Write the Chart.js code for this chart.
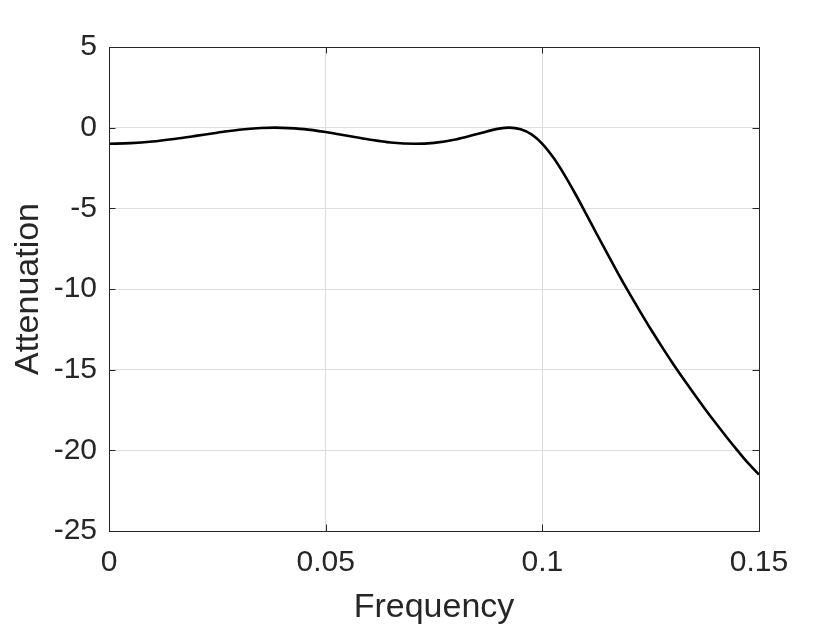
<!DOCTYPE html>
<html>
<head>
<meta charset="utf-8">
<script src="https://cdn.jsdelivr.net/npm/chart.js@4.4.1/dist/chart.umd.min.js"></script>
<style>
html,body{margin:0;padding:0;background:#fff;}
#wrap{width:840px;height:630px;position:relative;}
</style>
</head>
<body>
<div id="wrap"><canvas id="c" width="840" height="630"></canvas></div>
<script>
const frequency = [0, 0.005, 0.01, 0.015, 0.02, 0.025, 0.03, 0.035, 0.0383, 0.04, 0.045, 0.05, 0.055, 0.06, 0.065, 0.0707, 0.075, 0.08, 0.085, 0.09, 0.0924, 0.095, 0.0975, 0.1, 0.1025, 0.105, 0.1075, 0.11, 0.1125, 0.115, 0.1175, 0.12, 0.1225, 0.125, 0.1275, 0.13, 0.1325, 0.135, 0.1375, 0.14, 0.1425, 0.145, 0.1475, 0.15];
const attenuation = [-1.00, -0.96, -0.86, -0.70, -0.51, -0.31, -0.13, -0.02, 0.00, -0.01, -0.09, -0.27, -0.50, -0.73, -0.92, -1.00, -0.94, -0.73, -0.39, -0.06, 0.00, -0.10, -0.42, -1.00, -1.84, -2.88, -4.05, -5.29, -6.56, -7.81, -9.04, -10.23, -11.37, -12.48, -13.54, -14.57, -15.55, -16.50, -17.42, -18.31, -19.17, -20.00, -20.80, -21.50];
const xTickValues = [0, 0.05, 0.1, 0.15];
const xTickLabels = ["0", "0.05", "0.1", "0.15"];
const yTickValues = [-25, -20, -15, -10, -5, 0, 5];
const yTickLabels = ["-25", "-20", "-15", "-10", "-5", "0", "5"];
const xTitle = "Frequency";
const yTitle = "Attenuation";

const points = frequency.map((f, i) => ({x: f, y: attenuation[i]}));
const FONT = "'Liberation Sans', Arial, Helvetica, sans-serif";
const TXT = "#262626";

const boxTicks = {
  id: 'boxTicks',
  afterDraw(chart) {
    const ctx = chart.ctx, a = chart.chartArea;
    const xs = chart.scales.x, ys = chart.scales.y;
    const L = 6.5;
    ctx.save();
    ctx.strokeStyle = TXT;
    ctx.lineWidth = 1;
    ctx.beginPath();
    xTickValues.forEach(v => {
      const px = Math.round(xs.getPixelForValue(v)) + 0.5;
      ctx.moveTo(px, a.bottom); ctx.lineTo(px, a.bottom - L);
      ctx.moveTo(px, a.top); ctx.lineTo(px, a.top + L);
    });
    yTickValues.forEach(v => {
      const py = Math.round(ys.getPixelForValue(v)) + 0.5;
      ctx.moveTo(a.left, py); ctx.lineTo(a.left + L, py);
      ctx.moveTo(a.right, py); ctx.lineTo(a.right - L, py);
    });
    ctx.stroke();
    ctx.strokeRect(Math.round(a.left) + 0.5, Math.round(a.top) + 0.5, Math.round(a.right - a.left), Math.round(a.bottom - a.top));
    ctx.restore();
  }
};

new Chart(document.getElementById('c'), {
  type: 'line',
  data: {
    datasets: [{
      data: points,
      borderColor: '#000000',
      borderWidth: 2.6,
      pointRadius: 0,
      fill: false,
      cubicInterpolationMode: 'monotone'
    }]
  },
  options: {
    responsive: false,
    animation: false,
    events: [],
    layout: {padding: {top: 47, right: 81, left: 0, bottom: 0}},
    plugins: {legend: {display: false}, tooltip: {enabled: false}},
    scales: {
      x: {
        type: 'linear',
        min: 0, max: 0.15,
        afterFit(s) { s.height = 99; },
        afterBuildTicks(s) { s.ticks = xTickValues.map(v => ({value: v})); },
        grid: {color: '#dedede', lineWidth: 1, drawTicks: false},
        border: {display: false},
        ticks: {
          padding: 14,
          color: TXT,
          font: {family: FONT, size: 30},
          maxRotation: 0,
          callback: (v) => { const i = xTickValues.findIndex(t => Math.abs(t - v) < 1e-9); return i >= 0 ? xTickLabels[i] : ''; }
        },
        title: {display: true, text: xTitle, color: TXT, font: {family: FONT, size: 34}, padding: {top: 0, bottom: 2}}
      },
      y: {
        type: 'linear',
        min: -25, max: 5,
        afterFit(s) { s.width = 109; },
        afterBuildTicks(s) { s.ticks = yTickValues.map(v => ({value: v})); },
        grid: {color: '#dedede', lineWidth: 1, drawTicks: false},
        border: {display: false},
        ticks: {
          padding: 12,
          color: TXT,
          font: {family: FONT, size: 30},
          callback: (v) => { const i = yTickValues.findIndex(t => Math.abs(t - v) < 1e-9); return i >= 0 ? yTickLabels[i] : ''; }
        },
        title: {display: true, text: yTitle, color: TXT, font: {family: FONT, size: 34}, padding: {top: 8, bottom: 0}}
      }
    }
  },
  plugins: [boxTicks]
});
</script>
</body>
</html>
